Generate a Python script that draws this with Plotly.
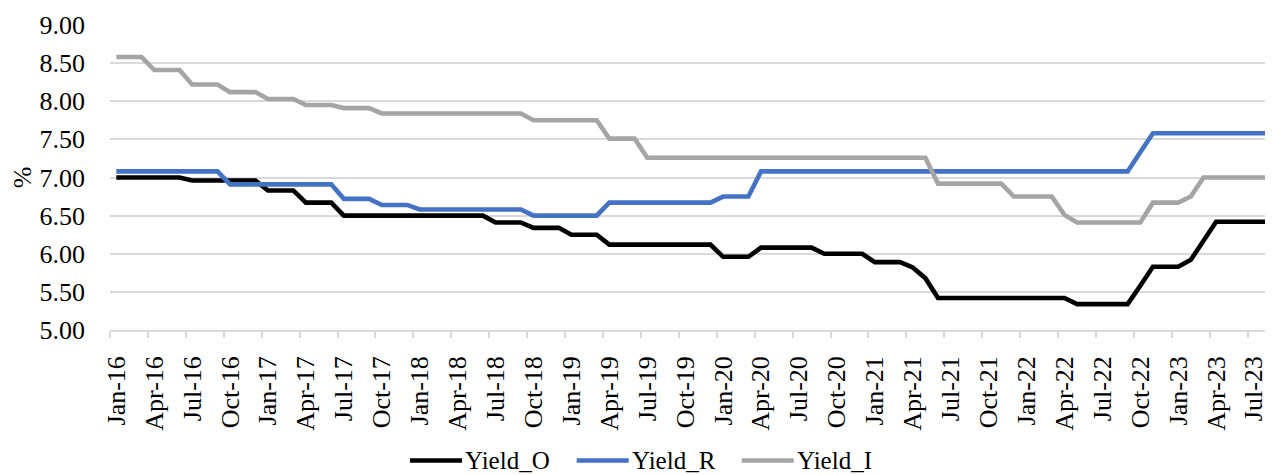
import pandas as pd
import plotly.graph_objects as go

# ---- data ----
months = pd.date_range("2016-01-01", periods=92, freq="MS").strftime("%b-%y").tolist()

yield_o = ([7.00] * 6 + [6.96] * 6 + [6.83] * 3 + [6.67] * 3 + [6.50] * 12 +
           [6.41] * 3 + [6.34] * 3 + [6.25] * 3 + [6.12] * 9 + [5.96] * 3 +
           [6.08] * 5 + [6.00] * 4 + [5.89] * 3 + [5.82] + [5.68] + [5.42] * 11 +
           [5.34] * 5 + [5.58] + [5.83] * 3 + [5.92] + [6.18] + [6.42] * 5)

yield_r = ([7.08] * 9 + [6.91] * 9 + [6.72] * 3 + [6.64] * 3 + [6.58] * 9 +
           [6.50] * 6 + [6.67] * 9 + [6.75] * 3 + [7.08] * 30 + [7.33] + [7.58] * 10)

yield_i = ([8.58] * 3 + [8.41] * 3 + [8.22] * 3 + [8.12] * 3 + [8.03] * 3 +
           [7.95] * 3 + [7.91] * 3 + [7.84] * 12 + [7.75] * 6 + [7.51] * 3 +
           [7.26] * 23 + [6.92] * 6 + [6.75] * 4 + [6.51] + [6.41] * 6 +
           [6.67] * 3 + [6.75] + [7.00] * 6)

series_names = ["Yield_O", "Yield_R", "Yield_I"]
series_values = [yield_o, yield_r, yield_i]
series_colors = ["#000000", "#4472C4", "#A5A5A5"]

tick_step = 3
tick_idx = list(range(0, len(months), tick_step))
tick_labels = [months[i] for i in tick_idx]

FONT = "Liberation Serif, Times New Roman, serif"

# page body has an 8px default margin: size the figure to fill the rest of the window
OFF = 8
FIG_W, FIG_H = 1273 - OFF, 475 - OFF
L, T = 110 - OFF, 25 - OFF
W, H = FIG_W - L, 305

fig = go.Figure()
x = list(range(len(months)))
for name, vals, col in zip(series_names, series_values, series_colors):
    fig.add_trace(go.Scatter(x=x, y=vals, mode="lines", name=name,
                             line=dict(color=col, width=4.6),
                             showlegend=False, text=months,
                             hovertemplate="%{text}: %{y:.2f}<extra>" + name + "</extra>"))

def px_to_paper_x(px):          # px in window coordinates
    return (px - OFF - L) / W
def px_to_paper_y(py):
    return (T + H - (py - OFF)) / H

legend_starts = [410, 576.7, 741.7]
leg_y = px_to_paper_y(460.5)
for start, name, col in zip(legend_starts, series_names, series_colors):
    fig.add_shape(type="line", xref="paper", yref="paper",
                  x0=px_to_paper_x(start), x1=px_to_paper_x(start + 52),
                  y0=leg_y, y1=leg_y, line=dict(color=col, width=4.5))
    fig.add_annotation(xref="paper", yref="paper", x=px_to_paper_x(start + 53),
                       y=leg_y, xanchor="left", yanchor="middle", showarrow=False,
                       text=name, font=dict(family=FONT, size=25, color="#000000"))

fig.update_layout(
    width=FIG_W, height=FIG_H,
    margin=dict(l=L, r=0, t=T, b=FIG_H - T - H, autoexpand=False),
    paper_bgcolor="white", plot_bgcolor="white",
    font=dict(family=FONT, size=26, color="#000000"),
    xaxis=dict(range=[-0.5, len(months) - 0.5], tickmode="array",
               tickvals=tick_idx, ticktext=tick_labels, tickangle=-90,
               ticks="", showgrid=False, zeroline=False,
               showline=True, linecolor="#D9D9D9", linewidth=1.5,
               ticklabelstandoff=14,
               tickfont=dict(family=FONT, size=26, color="#000000"),
               minor=dict(tickmode="array", tickvals=[i - 0.5 for i in tick_idx],
                          ticks="outside", ticklen=6, tickwidth=1.5,
                          tickcolor="#D9D9D9", showgrid=False)),
    yaxis=dict(range=[5, 9], dtick=0.5, tick0=5, tickformat=".2f",
               showgrid=True, gridcolor="#D9D9D9", gridwidth=1.5,
               zeroline=False, showline=False, ticks="",
               ticklabelstandoff=24,
               tickfont=dict(family=FONT, size=26, color="#000000"),
               title=dict(text="%", standoff=10,
                          font=dict(family=FONT, size=26, color="#000000"))),
)

fig.write_html("out.html")
